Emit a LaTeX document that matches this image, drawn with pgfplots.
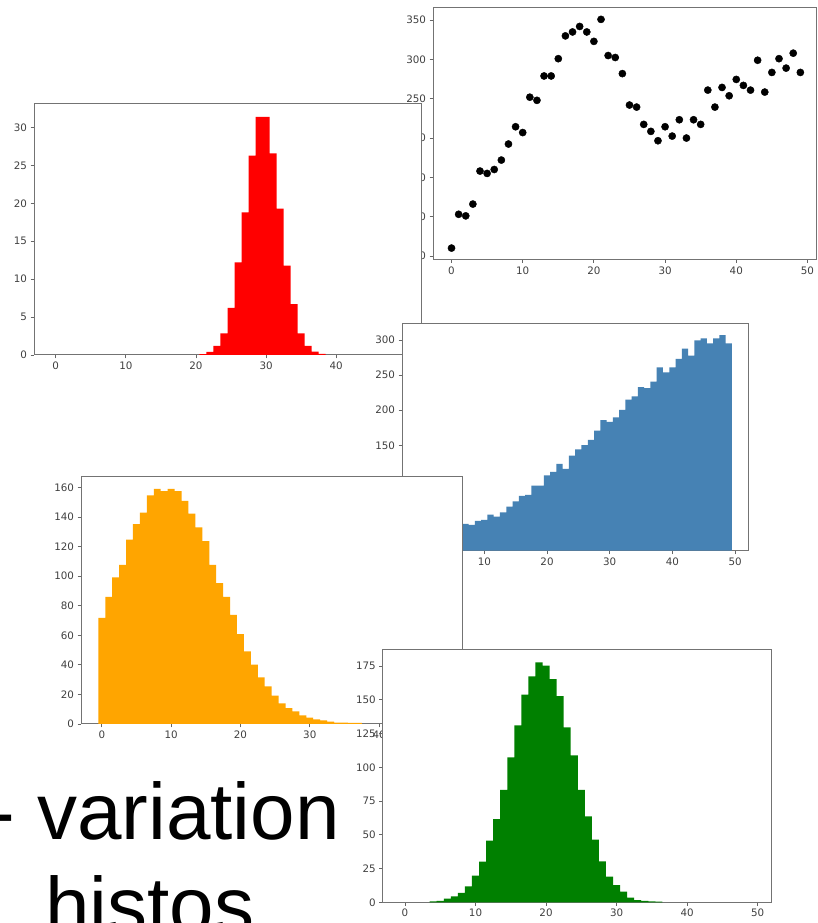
\documentclass[border=0pt]{standalone}
\usepackage{fontspec}
\setmainfont{DejaVu Sans}
\newfontfamily\bigfont{Liberation Sans}
\usepackage{pgfplots}
\pgfplotsset{compat=1.18}
\definecolor{steel}{RGB}{70,130,180}
\definecolor{orng}{RGB}{255,165,0}
\definecolor{grn}{RGB}{0,128,0}
\pgfplotsset{chart/.style={scale only axis, anchor=north west,
  axis background/.style={fill=white},
  axis line style={draw=black!55, line width=1pt},
  tick pos=left, tick align=outside, major tick length=3.5pt,
  tick style={black!60, line width=0.8pt},
  tick label style={font=\fontsize{10.3}{12}\selectfont, text=black!75},
  /pgf/number format/assume math mode=true,
  xtick={0,10,20,30,40,50}}}
\begin{document}
\begin{tikzpicture}
\fill[white] (0,0) rectangle (817pt,923pt);
\begin{scope}
\clip (0,0) rectangle (817pt,923pt);
\node[anchor=base east, inner sep=0pt, font=\bigfont\fontsize{80}{80}\selectfont] at (340pt,83pt) {- variation};
\node[anchor=base west, inner sep=0pt, font=\bigfont\fontsize{80}{80}\selectfont] at (45pt,-10pt) {histos};
\end{scope}

% scatter
\begin{axis}[chart, at={(433pt,915pt)}, width=383pt, height=251.5pt,
  xmin=-2.6, xmax=51.2, ymin=45.5, ymax=365.5, ytick={50,100,...,350}]
\addplot[only marks, mark=*, mark size=3.6pt, black] coordinates {
(0,60)(1,103)(2,101)(3,116)(4,158)(5,155)(6,160)(7,172)(8,192.4)(9,214.4)
(10,207)(11,252)(12,248)(13,279)(14,279)(15,301)(16,330)(17,335)(18,342)(19,335)
(20,323)(21,351)(22,305)(23,302.5)(24,282)(25,242)(26,239.4)(27,217.4)(28,208.5)(29,196.6)
(30,214.4)(31,202.5)(32,223.3)(33,200)(34,223.3)(35,217.4)(36,261)(37,239.4)(38,264.4)(39,253.8)
(40,274.6)(41,267)(42,261)(43,299)(44,258.5)(45,283.5)(46,301)(47,289)(48,308)(49,283.5)};
\end{axis}

% red histogram
\begin{axis}[chart, at={(34pt,819pt)}, width=387.7pt, height=251pt,
  xmin=-3.1, xmax=52.2, ymin=0, ymax=33.1, ytick={0,5,...,30}, xtick={0,10,20,30,40}]
\addplot[fill=red, draw=none, const plot mark left] coordinates {
(20.5,0.13)(21.5,0.4)(22.5,1.2)(23.5,2.85)(24.5,6.2)(25.5,12.2)(26.5,18.8)(27.5,26.3)
(28.5,31.4)(29.5,31.4)(30.5,26.6)(31.5,19.3)(32.5,11.8)(33.5,6.7)(34.5,2.85)(35.5,1.2)
(36.5,0.45)(37.5,0.15)(38.5,0)} \closedcycle;
\end{axis}

% blue histogram
\begin{axis}[chart, at={(402pt,599pt)}, width=346pt, height=226.6pt,
  xmin=-3.13, xmax=52.06, ymin=0, ymax=322.8, ytick={0,50,...,300}]
\addplot[fill=steel, draw=none, const plot mark left] coordinates {
(-0.5,24)(0.5,27)(1.5,29)(2.5,31)(3.5,33)(4.5,35)(5.5,37)(6.5,38)(7.5,36.5)(8.5,42.2)
(9.5,43.7)(10.5,51.3)(11.5,48.4)(12.5,54.6)(13.5,62.6)(14.5,70.2)(15.5,77.8)(16.5,79.3)
(17.5,92.5)(18.5,92.5)(19.5,107.3)(20.5,112)(21.5,123.4)(22.5,116.3)(23.5,135.3)(24.5,144.3)
(25.5,150.4)(26.5,157.6)(27.5,170.9)(28.5,186)(29.5,183.2)(30.5,189.8)(31.5,200.3)(32.5,215)
(33.5,219.7)(34.5,233)(35.5,231.5)(36.5,240.6)(37.5,261)(38.5,254)(39.5,261)(40.5,273)
(41.5,287.6)(42.5,277.6)(43.5,299.5)(44.5,302.3)(45.5,295.2)(46.5,302.3)(47.5,307)(48.5,295.2)
(49.5,0)} \closedcycle;
\end{axis}

% orange histogram
\begin{axis}[chart, at={(81pt,446.3pt)}, width=381.3pt, height=247.3pt,
  xmin=-3, xmax=52, ymin=0, ymax=167.2, ytick={0,20,...,160}]
\addplot[fill=orng, draw=none, const plot mark left] coordinates {
(-0.5,71.7)(0.5,86)(1.5,99.2)(2.5,107.5)(3.5,124.6)(4.5,135.2)(5.5,142.9)(6.5,154.6)
(7.5,158.9)(8.5,157.5)(9.5,158.9)(10.5,157.5)(11.5,150.8)(12.5,142.2)(13.5,133)(14.5,123.7)
(15.5,107.5)(16.5,95.3)(17.5,86)(18.5,73.7)(19.5,60.8)(20.5,49.1)(21.5,40.1)(22.5,31.5)
(23.5,25.5)(24.5,19.2)(25.5,14)(26.5,10.8)(27.5,8.6)(28.5,5.9)(29.5,4.3)(30.5,3.2)
(31.5,2.5)(32.5,1.6)(33.5,0.9)(34.5,0.9)(35.5,0.7)(36.5,0.7)(37.5,0)} \closedcycle;
\end{axis}

% green histogram
\begin{axis}[chart, at={(382.7pt,273pt)}, width=388.3pt, height=252.3pt,
  xmin=-3.16, xmax=51.9, ymin=0, ymax=186.9, ytick={0,25,...,175}]
\addplot[fill=grn, draw=none, const plot mark left] coordinates {
(3.5,0.7)(4.5,1)(5.5,2.7)(6.5,4.4)(7.5,6.9)(8.5,11.8)(9.5,19.7)(10.5,30.1)(11.5,45.7)
(12.5,61.7)(13.5,83.2)(14.5,107.4)(15.5,131)(16.5,153.8)(17.5,167.4)(18.5,177.7)(19.5,175.3)
(20.5,165.4)(21.5,152.8)(22.5,129.6)(23.5,108.9)(24.5,83.2)(25.5,63.7)(26.5,46.4)(27.5,30.4)
(28.5,19)(29.5,12.8)(30.5,7.9)(31.5,3.5)(32.5,1.7)(33.5,1)(34.5,0.7)(35.5,0.5)(36.5,0)} \closedcycle;
\end{axis}
\end{tikzpicture}
\end{document}
